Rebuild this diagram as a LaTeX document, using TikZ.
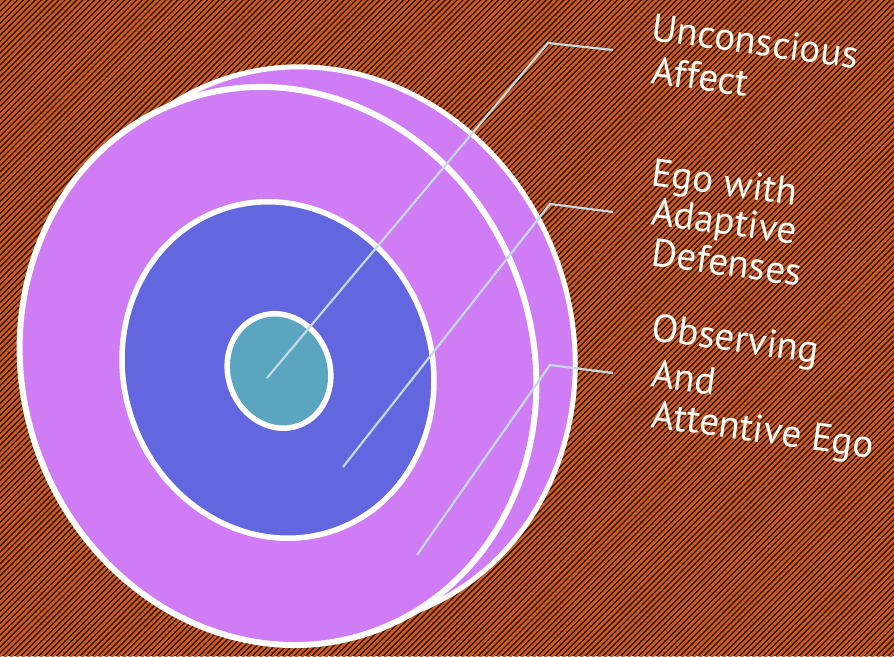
\documentclass[tikz,border=0pt]{standalone}
\usepackage{fontspec}
\setmainfont{PT Sans}
\usetikzlibrary{patterns.meta}
\definecolor{rust}{HTML}{D45A1E}
\definecolor{darkbrown}{HTML}{2A1810}
\definecolor{lilac}{HTML}{CF7CF5}
\definecolor{ringblue}{HTML}{6367DF}
\definecolor{coreteal}{HTML}{5AA6C0}
\definecolor{leader}{HTML}{C3D8E0}

\begin{document}
\begin{tikzpicture}[x=1pt,y=1pt]
\tikzstyle{disk}=[draw=white,line width=6pt]
\tikzstyle{lead}=[draw=leader,line width=2.2pt]
\tikzstyle{lbl}=[text=white,font=\fontsize{39}{44}\selectfont,rotate=-8,anchor=base west,inner sep=0pt]
\useasboundingbox (0,0) rectangle (894,656);
% striped backdrop
\fill[darkbrown] (0,0) rectangle (894,656);
\fill[pattern={Lines[angle=45,distance=4.2pt,line width=2.5pt]},pattern color=rust] (0,0) rectangle (894,656);
% disks, back to front
\draw[disk,line width=5pt,fill=lilac,rotate around={20:(315,309)}] (315,309) ellipse [x radius=257,y radius=283];
\draw[disk,fill=lilac,rotate around={20:(278,290)}] (278,290) ellipse [x radius=255,y radius=282];
\draw[disk,line width=5.5pt,fill=ringblue,rotate around={20:(278,286)}] (278,286) ellipse [x radius=154,y radius=170];
\draw[disk,line width=5.5pt,fill=coreteal,rotate around={20:(279,285)}] (279,285) ellipse [x radius=51,y radius=58];
% leader lines
\coordinate (p1) at (267,278); \coordinate (k1) at (548,613); \coordinate (e1) at (613,606);
\coordinate (p2) at (343,189); \coordinate (k2) at (550,452); \coordinate (e2) at (613,444);
\coordinate (p3) at (417,101); \coordinate (k3) at (550,291); \coordinate (e3) at (613,283);
\draw[lead] (p1) -- (k1) -- (e1);
\draw[lead] (p2) -- (k2) -- (e2);
\draw[lead] (p3) -- (k3) -- (e3);
% labels
\node[lbl] (u1) at (650,616) {Unconscious};
\node[lbl] (u2) at (650,573) {Affect};
\node[lbl] (g1) at (650,471) {Ego with};
\node[lbl] (g2) at (650,432) {Adaptive};
\node[lbl] (g3) at (650,391) {Defenses};
\node[lbl] (o1) at (650,316) {Observing};
\node[lbl] (o2) at (650,270) {And};
\node[lbl] (o3) at (650,229) {Attentive Ego};
\end{tikzpicture}
\end{document}
